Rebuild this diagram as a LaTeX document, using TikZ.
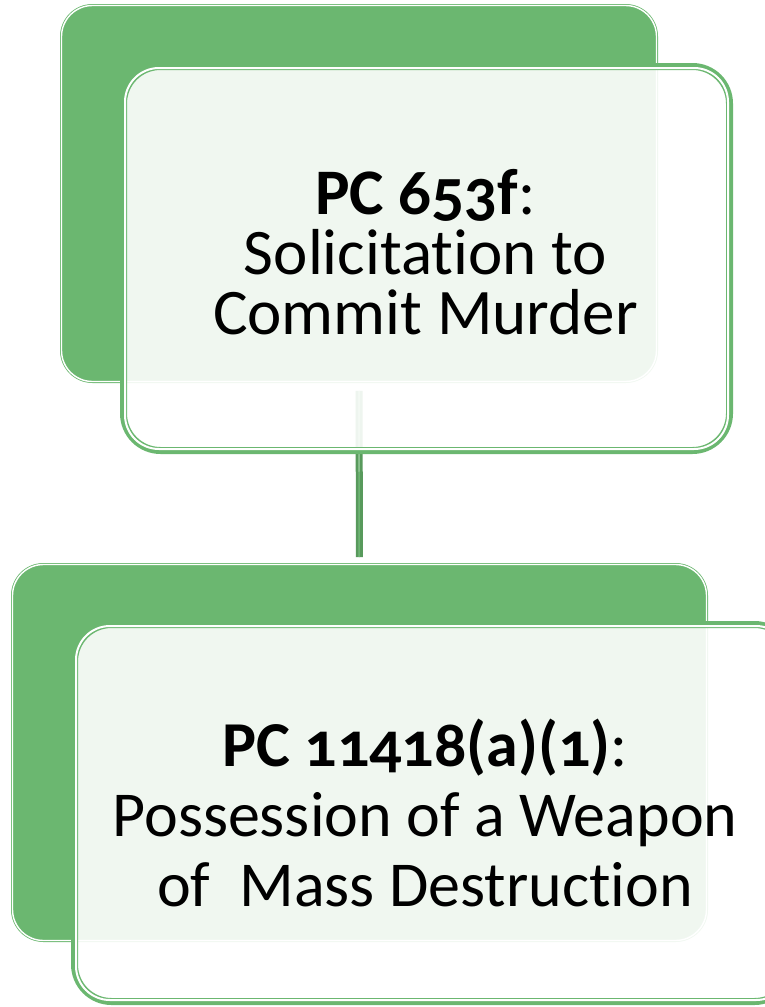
\documentclass[tikz,border=0pt]{standalone}
\usepackage{fontspec}
\setmainfont{Carlito}[Numbers=OldStyle, Ligatures=NoCommon]
\usepackage{tikz}

\definecolor{boxgreen}{RGB}{107,183,112}
\definecolor{linkgreen}{RGB}{88,154,92}

\begin{document}
\begin{tikzpicture}[x=1pt, y=-1pt]
\tikzset{
  backbox/.style={rectangle, rounded corners=31pt, fill=boxgreen, draw=boxgreen, line width=0.8pt, double=white, double distance=1.4pt, inner sep=0pt},
  frontbox/.style={rectangle, rounded corners=37pt, fill=white, fill opacity=0.9, text opacity=1, draw=boxgreen, line width=7pt, inner sep=0pt},
  innerline/.style={white, line width=2pt, rounded corners=34pt},
  boxtext/.style={align=center, text=black, inner sep=0pt}
}
\useasboundingbox (0,0) rectangle (765,1007);
\clip (0,0) rectangle (765,1007);

% back boxes
\node[backbox, minimum width=595pt, minimum height=376pt] (solicit-back) at (359,193.5) {};
\node[backbox, minimum width=694pt, minimum height=376pt] (weapon-back) at (359.5,752.5) {};

\draw[linkgreen, line width=7pt, shorten <=9pt, shorten >=7pt] (solicit-back.south) -- (weapon-back.north);
\draw[white, line width=1pt, shorten <=9pt, shorten >=7pt, xshift=-2.5pt] (solicit-back.south) -- (weapon-back.north);
\draw[boxgreen, line width=1pt, shorten <=9pt, shorten >=7pt, xshift=-4pt] (solicit-back.south) -- (weapon-back.north);

% front boxes
\node[frontbox, minimum width=606pt, minimum height=384pt] (solicit) at (426.5,258.5) {};
\draw[innerline] ([shift={(5,5)}]solicit.north west) rectangle ([shift={(-5,-5)}]solicit.south east);

\node[frontbox, minimum width=717pt, minimum height=377pt] (weapon) at (433,813) {};
\draw[innerline] ([shift={(5,5)}]weapon.north west) rectangle ([shift={(-5,-5)}]weapon.south east);

% labels
\node[boxtext, font=\fontsize{65}{60}\selectfont] (solicit-text) at ([xshift=-1pt, yshift=6pt]solicit.center) {\textbf{PC 653f}:\\Solicitation to\\Commit Murder};
\node[boxtext, font=\fontsize{64}{70}\selectfont] (weapon-text) at ([xshift=-8pt]weapon.center) {\textbf{PC 11418(a)(1)}:\\Possession of a Weapon\\of\ \ Mass Destruction};

\end{tikzpicture}
\end{document}
